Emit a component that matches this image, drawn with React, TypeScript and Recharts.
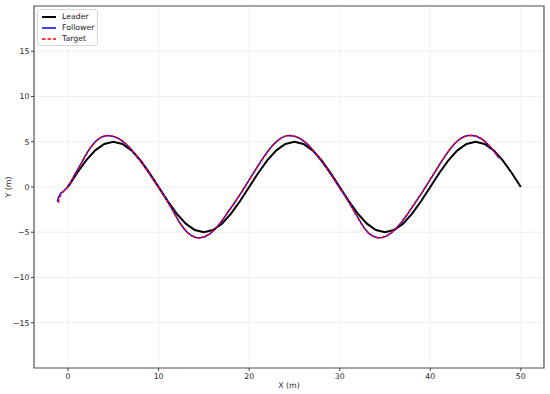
import { LineChart, Line, XAxis, YAxis, CartesianGrid, Legend, ReferenceArea } from 'recharts';

const seriesNames = ['Leader', 'Follower', 'Target'];
const seriesColors = ['#000000', '#0000ff', '#ff0000'];

const xTicks = [0, 10, 20, 30, 40, 50];
const yTicks = [-15, -10, -5, 0, 5, 10, 15];

const leaderX = [
  0, 1, 2, 3, 4, 5, 6, 7, 8, 9, 10, 11, 12, 13, 14, 15, 16, 17, 18, 19, 20, 21, 22, 23, 24, 25,
  26, 27, 28, 29, 30, 31, 32, 33, 34, 35, 36, 37, 38, 39, 40, 41, 42, 43, 44, 45, 46, 47, 48, 49, 50,
];
const leaderY = [
  0, 1.55, 2.94, 4.05, 4.76, 5.0, 4.76, 4.05, 2.94, 1.55, 0, -1.55, -2.94, -4.05, -4.76, -5.0, -4.76,
  -4.05, -2.94, -1.55, 0, 1.55, 2.94, 4.05, 4.76, 5.0, 4.76, 4.05, 2.94, 1.55, 0, -1.55, -2.94, -4.05,
  -4.76, -5.0, -4.76, -4.05, -2.94, -1.55, 0, 1.55, 2.94, 4.05, 4.76, 5.0, 4.76, 4.05, 2.94, 1.55, 0,
];

const followerX = [
  -1.18, -1.05, -0.8, -0.45, -0.1, 0.3, 0.7, 1.1, 1.5, 1.9, 2.3, 2.7, 3.1, 3.5, 3.9, 4.4, 4.9, 5.4,
  5.9, 6.4, 6.9, 7.4, 7.9, 8.4, 8.9, 9.4, 9.9, 10.4, 10.9, 11.4, 11.9, 12.3, 12.7, 13.1, 13.6, 14.1,
  14.6, 15.1, 15.6, 16.1, 16.6, 17.1, 17.6, 18.1, 18.6, 19.1, 19.6, 20.1, 20.6, 21.1, 21.6, 22.1,
  22.6, 23.1, 23.6, 24.1, 24.5, 25.0, 25.5, 26.0, 26.5, 27.0, 27.5, 28.0, 28.5, 29.0, 29.5, 30.0,
  30.5, 31.0, 31.5, 32.0, 32.4, 32.8, 33.2, 33.7, 34.2, 34.7, 35.2, 35.7, 36.2, 36.7, 37.2, 37.7,
  38.2, 38.7, 39.2, 39.7, 40.2, 40.7, 41.2, 41.7, 42.2, 42.7, 43.2, 43.7, 44.2, 44.6, 45.1, 45.6,
  46.1, 46.6, 47.1, 47.6,
];
const followerY = [
  -1.62, -1.15, -0.7, -0.42, -0.05, 0.55, 1.3, 2.0, 2.7, 3.45, 4.1, 4.65, 5.1, 5.4, 5.6, 5.68, 5.62,
  5.45, 5.15, 4.75, 4.25, 3.65, 3.0, 2.3, 1.6, 0.85, 0.1, -0.65, -1.45, -2.3, -3.2, -3.9, -4.45, -4.95,
  -5.35, -5.58, -5.62, -5.5, -5.22, -4.8, -4.25, -3.6, -2.85, -2.15, -1.4, -0.65, 0.15, 0.95, 1.75,
  2.55, 3.3, 4.0, 4.6, 5.1, 5.45, 5.65, 5.7, 5.62, 5.42, 5.1, 4.68, 4.12, 3.5, 2.85, 2.15, 1.42, 0.68,
  -0.08, -0.85, -1.65, -2.5, -3.35, -4.05, -4.65, -5.1, -5.45, -5.6, -5.57, -5.4, -5.08, -4.62, -4.05,
  -3.4, -2.7, -1.95, -1.2, -0.45, 0.35, 1.15, 1.95, 2.75, 3.5, 4.2, 4.8, 5.25, 5.55, 5.68, 5.7, 5.6,
  5.36, 4.98, 4.48, 3.88, 3.2,
];

const targetX = [
  -1.07, -0.98, -0.78, -0.45, -0.1, 0.3, 0.7, 1.1, 1.5, 1.9, 2.3, 2.7, 3.1, 3.5, 3.9, 4.4, 4.9, 5.4,
  5.9, 6.4, 6.9, 7.4, 7.9, 8.4, 8.9, 9.4, 9.9, 10.4, 10.9, 11.4, 11.9, 12.3, 12.7, 13.1, 13.6, 14.1,
  14.6, 15.1, 15.6, 16.1, 16.6, 17.1, 17.6, 18.1, 18.6, 19.1, 19.6, 20.1, 20.6, 21.1, 21.6, 22.1,
  22.6, 23.1, 23.6, 24.1, 24.5, 25.0, 25.5, 26.0, 26.5, 27.0, 27.5, 28.0, 28.5, 29.0, 29.5, 30.0,
  30.5, 31.0, 31.5, 32.0, 32.4, 32.8, 33.2, 33.7, 34.2, 34.7, 35.2, 35.7, 36.2, 36.7, 37.2, 37.7,
  38.2, 38.7, 39.2, 39.7, 40.2, 40.7, 41.2, 41.7, 42.2, 42.7, 43.2, 43.7, 44.2, 44.6, 45.1, 45.6,
  46.1, 46.6, 47.1, 47.6,
];
const targetY = [
  -1.75, -1.3, -0.8, -0.45, -0.1, 0.5, 1.22, 1.92, 2.65, 3.4, 4.05, 4.62, 5.08, 5.4, 5.6, 5.7, 5.63,
  5.45, 5.15, 4.76, 4.26, 3.66, 3.0, 2.3, 1.6, 0.85, 0.08, -0.68, -1.48, -2.32, -3.2, -3.92, -4.5,
  -4.98, -5.38, -5.6, -5.63, -5.5, -5.2, -4.78, -4.22, -3.58, -2.88, -2.18, -1.45, -0.7, 0.1, 0.9, 1.7,
  2.5, 3.27, 3.98, 4.58, 5.08, 5.45, 5.66, 5.7, 5.63, 5.43, 5.1, 4.68, 4.12, 3.5, 2.85, 2.15, 1.42,
  0.66, -0.1, -0.88, -1.68, -2.52, -3.38, -4.08, -4.68, -5.12, -5.46, -5.62, -5.58, -5.4, -5.06,
  -4.6, -4.02, -3.38, -2.68, -1.92, -1.18, -0.42, 0.38, 1.18, 1.98, 2.78, 3.52, 4.22, 4.8, 5.26, 5.56,
  5.69, 5.7, 5.6, 5.36, 4.98, 4.48, 3.88, 3.2,
];

const zip = (xs: number[], ys: number[]) => xs.map((x, i) => ({ x, y: ys[i] }));
const leaderData = zip(leaderX, leaderY);
const followerData = zip(followerX, followerY);
const targetData = zip(targetX, targetY);

const font = 'DejaVu Sans, sans-serif';
const fmt = (v: number) => (v < 0 ? `\u2212${-v}` : `${v}`);

const LegendBox = () => (
  <div
    style={{
      background: 'rgba(255,255,255,0.85)',
      border: '1px solid #d6d6d6',
      borderRadius: 3,
      padding: '1px 3px 1px 3px',
      fontFamily: font,
      fontSize: 7.8,
      color: '#222',
      lineHeight: '11px',
    }}
  >
    {seriesNames.map((name, i) => (
      <div key={name} style={{ display: 'flex', alignItems: 'center' }}>
        <svg width={16} height={6}>
          <line
            x1={1}
            y1={3}
            x2={15}
            y2={3}
            stroke={seriesColors[i]}
            strokeWidth={i === 0 ? 2 : 1.5}
            strokeDasharray={i === 2 ? '3.5 2' : undefined}
          />
        </svg>
        <span style={{ marginLeft: 5 }}>{name}</span>
      </div>
    ))}
  </div>
);

export default function App() {
  return (
    <div style={{ position: 'absolute', left: 0, top: 0, background: '#fff' }}>
      <LineChart width={550} height={394} margin={{ top: 6, right: 6, left: 0, bottom: 0 }}>
        <CartesianGrid stroke="#ebebeb" strokeWidth={0.8} />
        <XAxis
          dataKey="x"
          type="number"
          domain={[-3.76, 52.56]}
          ticks={xTicks}
          allowDataOverflow
          height={26}
          axisLine={false}
          tickSize={3}
          tickMargin={2}
          tickLine={{ stroke: '#444' }}
          tick={{ fontSize: 7.8, fill: '#262626', fontFamily: font }}
          label={(p: any) => (
            <text
              x={p.viewBox.x + p.viewBox.width / 2}
              y={388}
              textAnchor="middle"
              fontSize={7.8}
              fontFamily={font}
              fill="#262626"
            >
              X (m)
            </text>
          )}
        />
        <YAxis
          type="number"
          domain={[-20, 20]}
          ticks={yTicks}
          allowDataOverflow
          width={34}
          axisLine={false}
          tickSize={3}
          tickMargin={1.5}
          tickLine={{ stroke: '#444' }}
          tickFormatter={fmt}
          tick={{ fontSize: 7.8, fill: '#262626', fontFamily: font }}
          label={(p: any) => {
            const cy = p.viewBox.y + p.viewBox.height / 2;
            return (
              <text
                x={11}
                y={cy}
                transform={`rotate(-90 11 ${cy})`}
                textAnchor="middle"
                fontSize={7.8}
                fontFamily={font}
                fill="#262626"
              >
                Y (m)
              </text>
            );
          }}
        />
        <Line
          data={leaderData}
          dataKey="y"
          name={seriesNames[0]}
          stroke={seriesColors[0]}
          strokeWidth={2}
          dot={false}
          type="linear"
          isAnimationActive={false}
        />
        <Line
          data={followerData}
          dataKey="y"
          name={seriesNames[1]}
          stroke={seriesColors[1]}
          strokeWidth={1.5}
          dot={false}
          type="linear"
          isAnimationActive={false}
        />
        <Line
          data={targetData}
          dataKey="y"
          name={seriesNames[2]}
          stroke={seriesColors[2]}
          strokeWidth={1.5}
          strokeDasharray="3.5 2"
          dot={false}
          type="linear"
          isAnimationActive={false}
        />
        <ReferenceArea
          x1={-3.76}
          x2={52.56}
          y1={-20}
          y2={20}
          fill="none"
          fillOpacity={0}
          stroke="#555"
          strokeWidth={1.2}
          ifOverflow="visible"
        />
        <Legend
          layout="vertical"
          align="center"
          verticalAlign="middle"
          content={() => <LegendBox />}
          wrapperStyle={{ top: 9, left: 37, width: 'auto', height: 'auto' }}
        />
      </LineChart>
    </div>
  );
}
